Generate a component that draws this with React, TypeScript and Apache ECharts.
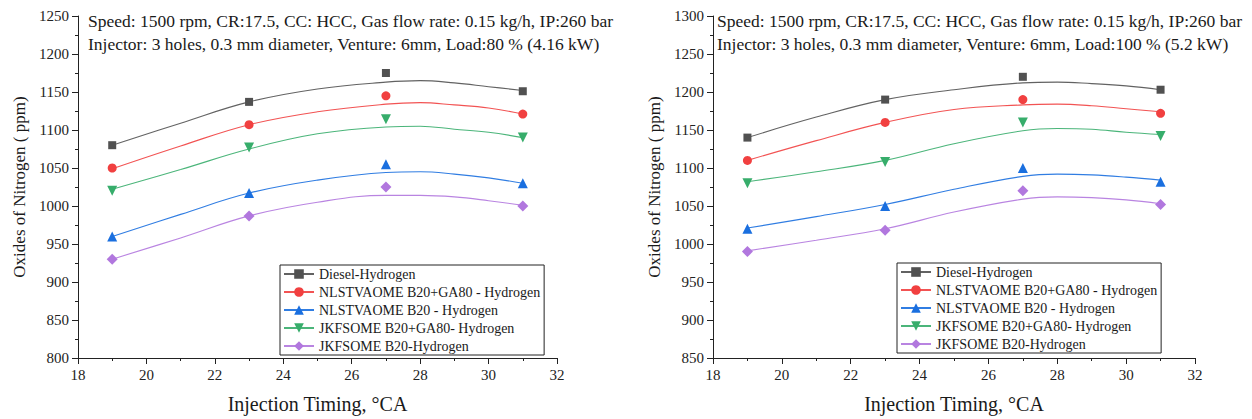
import React, { useEffect, useRef } from "react";
import * as echarts from "echarts";

const SERIES_NAMES = [
  "Diesel-Hydrogen",
  "NLSTVAOME B20+GA80 - Hydrogen",
  "NLSTVAOME B20 - Hydrogen",
  "JKFSOME B20+GA80- Hydrogen",
  "JKFSOME B20-Hydrogen",
];
const COLORS = ["#515151", "#F14040", "#1A6FDF", "#37AD6B", "#B177DE"];
const SYMBOLS = ["rect", "circle", "triangle", "triangle", "diamond"];
const SYMBOL_ROTATE = [0, 0, 0, 180, 0];
const SYMBOL_SIZE = [8, 9, 10, 10, 11];

const X_DATA = [19, 23, 27, 31];
const X_FIT = [19, 21, 23, 25, 27, 28, 29, 30, 31];

// Left panel: Load 80 %
const L_DIESEL = [1080, 1137, 1175, 1151];
const L_NLS_GA = [1050, 1107, 1145, 1121];
const L_NLS = [960, 1017, 1055, 1030];
const L_JKF_GA = [1020, 1077, 1114, 1090];
const L_JKF = [930, 987, 1025, 1000];

const L_FIT_DIESEL = [1080, 1109, 1137, 1154, 1163, 1165, 1162, 1157, 1152];
const L_FIT_NLS_GA = [1049, 1079, 1107, 1124, 1134, 1136, 1133, 1129, 1121];
const L_FIT_NLS = [960, 989, 1017, 1034, 1044, 1045, 1042, 1037, 1030];
const L_FIT_JKF_GA = [1022, 1048, 1075, 1095, 1104, 1105, 1101, 1097, 1090];
const L_FIT_JKF = [930, 958, 987, 1005, 1014, 1014, 1012, 1007, 1001];

// Right panel: Load 100 %
const R_DIESEL = [1140, 1190, 1220, 1203];
const R_NLS_GA = [1110, 1160, 1190, 1172];
const R_NLS = [1020, 1050, 1100, 1082];
const R_JKF_GA = [1080, 1108, 1160, 1142];
const R_JKF = [990, 1018, 1070, 1052];

const R_FIT_DIESEL = [1140, 1167, 1190, 1203, 1212, 1213, 1211, 1208, 1203];
const R_FIT_NLS_GA = [1110, 1136, 1160, 1177, 1183, 1184, 1182, 1178, 1174];
const R_FIT_NLS = [1021, 1036, 1052, 1072, 1089, 1092, 1091, 1088, 1084];
const R_FIT_JKF_GA = [1082, 1095, 1110, 1132, 1149, 1152, 1151, 1147, 1144];
const R_FIT_JKF = [991, 1005, 1020, 1042, 1059, 1062, 1061, 1058, 1053];

const LEFT_NOTE_1 = "Speed: 1500 rpm, CR:17.5, CC: HCC, Gas flow rate: 0.15 kg/h, IP:260 bar";
const LEFT_NOTE_2 = "Injector: 3 holes, 0.3 mm diameter, Venture: 6mm, Load:80 % (4.16 kW)";
const RIGHT_NOTE_1 = "Speed: 1500 rpm, CR:17.5, CC: HCC, Gas flow rate: 0.15 kg/h, IP:260 bar";
const RIGHT_NOTE_2 = "Injector: 3 holes, 0.3 mm diameter, Venture: 6mm, Load:100 % (5.2 kW)";

const X_NAME = "Injection Timing, °CA";
const Y_NAME = "Oxides of Nitrogen ( ppm)";

const FONT = "'Liberation Serif', 'Times New Roman', serif";

const LEFT_DATA = [L_DIESEL, L_NLS_GA, L_NLS, L_JKF_GA, L_JKF];
const LEFT_FIT = [L_FIT_DIESEL, L_FIT_NLS_GA, L_FIT_NLS, L_FIT_JKF_GA, L_FIT_JKF];
const RIGHT_DATA = [R_DIESEL, R_NLS_GA, R_NLS, R_JKF_GA, R_JKF];
const RIGHT_FIT = [R_FIT_DIESEL, R_FIT_NLS_GA, R_FIT_NLS, R_FIT_JKF_GA, R_FIT_JKF];

function makeSeries(gridIdx: number, data: number[][], fit: number[][]) {
  const out: any[] = [];
  SERIES_NAMES.forEach((name, i) => {
    out.push({
      type: "line",
      name,
      xAxisIndex: gridIdx,
      yAxisIndex: gridIdx,
      data: X_FIT.map((x, k) => [x, fit[i][k]]),
      smooth: 0.4,
      showSymbol: false,
      symbol: SYMBOLS[i],
      symbolRotate: SYMBOL_ROTATE[i],
      symbolSize: SYMBOL_SIZE[i],
      itemStyle: { color: COLORS[i] },
      lineStyle: { color: COLORS[i], width: 1.1, opacity: 0.9 },
      z: 2,
    });
    out.push({
      type: "scatter",
      name,
      xAxisIndex: gridIdx,
      yAxisIndex: gridIdx,
      data: X_DATA.map((x, k) => [x, data[i][k]]),
      symbol: SYMBOLS[i],
      symbolRotate: SYMBOL_ROTATE[i],
      symbolSize: SYMBOL_SIZE[i],
      itemStyle: { color: COLORS[i], opacity: 1 },
      z: 3,
    });
  });
  return out;
}

function xAxis(gridIndex: number) {
  return {
    type: "value",
    gridIndex,
    min: 18,
    max: 32,
    interval: 2,
    name: X_NAME,
    nameLocation: "middle",
    nameGap: 36,
    nameTextStyle: { fontFamily: FONT, fontSize: 20, color: "#1a1a1a" },
    axisLine: { show: true, lineStyle: { color: "#222", width: 1 } },
    axisTick: { show: true, length: 6, lineStyle: { color: "#222" } },
    minorTick: { show: true, splitNumber: 2, length: 3, lineStyle: { color: "#222" } },
    splitLine: { show: false },
    axisLabel: { fontFamily: FONT, fontSize: 15, color: "#222", margin: 9, formatter: (v: number) => String(v) },
  };
}

function yAxis(gridIndex: number, min: number, max: number) {
  return {
    type: "value",
    gridIndex,
    min,
    max,
    interval: 50,
    name: Y_NAME,
    nameLocation: "middle",
    nameGap: 50,
    nameTextStyle: { fontFamily: FONT, fontSize: 17, color: "#1a1a1a" },
    axisLine: { show: true, lineStyle: { color: "#222", width: 1 } },
    axisTick: { show: true, length: 6, lineStyle: { color: "#222" } },
    minorTick: { show: true, splitNumber: 2, length: 3, lineStyle: { color: "#222" } },
    splitLine: { show: false },
    axisLabel: { fontFamily: FONT, fontSize: 15, color: "#222", margin: 9, formatter: (v: number) => String(v) },
  };
}

function legend(left: number, top: number) {
  return {
    orient: "vertical",
    left,
    top,
    data: SERIES_NAMES,
    itemWidth: 30,
    itemHeight: 12,
    itemGap: 4,
    padding: [2, 4, 2, 3],
    borderColor: "#222",
    borderWidth: 1,
    backgroundColor: "#fff",
    selectedMode: false,
    textStyle: { fontFamily: FONT, fontSize: 14, color: "#1a1a1a" },
    z: 10,
  };
}

function note(x: number, y: number, text: string) {
  return {
    type: "text",
    left: x,
    top: y,
    style: { text, fontFamily: FONT, fontSize: 17.5, fill: "#1a1a1a" },
    z: 20,
  };
}

export default function App() {
  const ref = useRef<HTMLDivElement>(null);
  useEffect(() => {
    document.body.style.margin = "0";
    const chart = echarts.init(ref.current!, null, { renderer: "svg" });
    chart.setOption({
      animation: false,
      backgroundColor: "#fff",
      grid: [
        { left: 78, top: 16, width: 479, height: 343 },
        { left: 713, top: 16, width: 482, height: 346 },
      ],
      xAxis: [xAxis(0), xAxis(1)],
      yAxis: [yAxis(0, 800, 1250), yAxis(1, 850, 1300)],
      legend: [legend(280, 265), legend(897, 263)],
      graphic: [
        note(88, 12, LEFT_NOTE_1),
        note(88, 35, LEFT_NOTE_2),
        note(717, 12, RIGHT_NOTE_1),
        note(717, 35, RIGHT_NOTE_2),
      ],
      series: [...makeSeries(0, LEFT_DATA, LEFT_FIT), ...makeSeries(1, RIGHT_DATA, RIGHT_FIT)],
    });
    return () => chart.dispose();
  }, []);
  return <div ref={ref} style={{ width: 1252, height: 419 }} />;
}
